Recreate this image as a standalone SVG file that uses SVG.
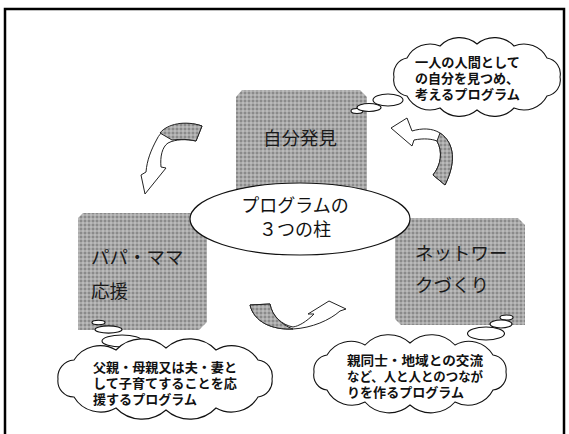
<svg xmlns="http://www.w3.org/2000/svg" width="569" height="434" viewBox="0 0 569 434">
<defs>
<pattern id="chk" width="4" height="4" patternUnits="userSpaceOnUse">
<rect width="4" height="4" fill="#a9a9a9"/>
<rect width="2" height="2" fill="#8a8a8a"/>
<rect x="2" y="2" width="2" height="2" fill="#bababa"/>
</pattern>
</defs>
<style>
.box{fill:url(#chk);stroke:none}
.boxtxt{font-family:"Noto Sans CJK JP","Noto Sans CJK SC",sans-serif;font-size:18.5px;fill:#1a1a1a}
.ctr{font-family:"Noto Sans CJK JP","Noto Sans CJK SC",sans-serif;font-size:18px;fill:#111;text-anchor:middle}
.cloud{fill:#fff;stroke:#111;stroke-width:1.1}
.ctxt{font-family:"Noto Sans CJK JP","Noto Sans CJK SC",sans-serif;font-size:13px;font-weight:bold;fill:#111}
.arrow{fill:#fff;stroke:#222;stroke-width:1}
.tail{fill:url(#chk);stroke:#222;stroke-width:1}
</style>
<rect width="569" height="434" fill="#fff"/>
<rect id="frame" x="5" y="9" width="559" height="440" fill="none" stroke="#000" stroke-width="2.5"/>

<g id="node-top">
<polygon class="box" points="242,90 360,90 367,97 367,205 236,205 236,97"/>
<text class="boxtxt" x="263" y="145">自分発見</text>
</g>
<g id="node-left">
<polygon class="box" points="83,213 207,213 207,322 199,330 78,330 78,218"/>
<text class="boxtxt" x="91" y="264">パパ・ママ</text>
<text class="boxtxt" x="91" y="298">応援</text>
</g>
<g id="node-right">
<polygon class="box" points="395,218 518,218 525,225 525,325 401,325 395,319"/>
<text class="boxtxt" x="415" y="260">ネットワー</text>
<text class="boxtxt" x="415" y="292">クづくり</text>
</g>
<g id="node-center">
<ellipse cx="300" cy="219" rx="110" ry="36" fill="#fff" stroke="#111" stroke-width="1.2"/>
<text class="ctr" x="295" y="212">プログラムの</text>
<text class="ctr" x="295" y="236">３つの柱</text>
</g>

<g id="connectors">
<path class="arrow" d="M202,126 C185,120 163,126 157,139 C151,150 147,160 146,172 L141,175 L145,194 L166,168 L161,167 C160,157 162,147 168,143 C176,139 186,139 196,141 Z"/>
<path class="tail" d="M202,126 C185,120 167,124 160,133 L172,140 C180,139 188,139 196,141 Z"/>
<path class="arrow" d="M445,185 C456,163 455,143 440,133 C432,128 422,128 412,131 L407,118 L391,128 L412,146 L414,140 C424,138 432,139 437,141 C443,152 441,165 433,175 Z"/>
<path class="tail" d="M445,185 C456,163 455,143 440,133 L437,141 C443,152 441,165 433,175 Z"/>
<path class="arrow" d="M250,305 C254,322 272,330 293,329 C312,328 330,320 340,311 L346,309 L329,301 L308,314 L314,314 C306,322 299,326 293,327 C282,325 272,316 270,304 Z"/>
<path class="tail" d="M250,305 C254,322 272,330 293,329 C282,325 272,316 270,304 Z"/>
</g>

<g id="cloud-tr">
<ellipse class="cloud" cx="357" cy="111" rx="6" ry="2.5"/>
<ellipse class="cloud" cx="369" cy="107.5" rx="12" ry="4"/>
<ellipse class="cloud" cx="388" cy="100" rx="15" ry="6"/>
<path class="cloud" d="M560,77 A16,16 0 0 1 547,96 A26,26 0 0 1 514,108 A27,27 0 0 1 477,110 A27,27 0 0 1 440,108 A26,26 0 0 1 407,96 A16,16 0 0 1 394,77 A16,16 0 0 1 407,58 A26,26 0 0 1 440,46 A27,27 0 0 1 477,44 A27,27 0 0 1 514,46 A26,26 0 0 1 547,58 A16,16 0 0 1 560,77 Z"/>
<text class="ctxt" x="415" y="67" textLength="105" lengthAdjust="spacingAndGlyphs">一人の人間として</text>
<text class="ctxt" x="415" y="83" textLength="104" lengthAdjust="spacingAndGlyphs">の自分を見つめ、</text>
<text class="ctxt" x="415" y="99" textLength="105" lengthAdjust="spacingAndGlyphs">考えるプログラム</text>
</g>

<g id="cloud-bl">
<ellipse class="cloud" cx="98.5" cy="322.5" rx="6.5" ry="2.2"/>
<ellipse class="cloud" cx="108.5" cy="329.5" rx="13.5" ry="3.6"/>
<ellipse class="cloud" cx="122" cy="341" rx="20" ry="6"/>
<path class="cloud" d="M272,379 A16,16 0 0 1 258,397 A31,31 0 0 1 216,408 A36,36 0 0 1 166,410 A36,36 0 0 1 116,408 A31,31 0 0 1 74,397 A16,16 0 0 1 58,379 A17,17 0 0 1 74,360 A31,31 0 0 1 116,350 A36,36 0 0 1 166,348 A36,36 0 0 1 216,350 A31,31 0 0 1 258,360 A16,16 0 0 1 272,379 Z"/>
<text class="ctxt" x="93" y="372" textLength="144" lengthAdjust="spacingAndGlyphs">父親・母親又は夫・妻と</text>
<text class="ctxt" x="93" y="388" textLength="144" lengthAdjust="spacingAndGlyphs">して子育てすることを応</text>
<text class="ctxt" x="93" y="404" textLength="104" lengthAdjust="spacingAndGlyphs">援するプログラム</text>
</g>

<g id="cloud-br">
<ellipse class="cloud" cx="506.5" cy="317.5" rx="6.5" ry="2.5"/>
<ellipse class="cloud" cx="501" cy="324" rx="11" ry="4"/>
<ellipse class="cloud" cx="486" cy="333.5" rx="18.5" ry="6.5"/>
<path class="cloud" d="M506,372 A15,15 0 0 1 493,390 A28,28 0 0 1 455,402 A32,32 0 0 1 410,405 A32,32 0 0 1 365,402 A28,28 0 0 1 327,390 A15,15 0 0 1 314,372 A15,15 0 0 1 327,355 A28,28 0 0 1 365,345 A32,32 0 0 1 410,343 A32,32 0 0 1 455,345 A28,28 0 0 1 493,355 A15,15 0 0 1 506,372 Z"/>
<text class="ctxt" x="347" y="365" textLength="136" lengthAdjust="spacingAndGlyphs">親同士・地域との交流</text>
<text class="ctxt" x="347" y="381" textLength="136" lengthAdjust="spacingAndGlyphs">など、人と人とのつなが</text>
<text class="ctxt" x="347" y="397" textLength="117" lengthAdjust="spacingAndGlyphs">りを作るプログラム</text>
</g>
</svg>
